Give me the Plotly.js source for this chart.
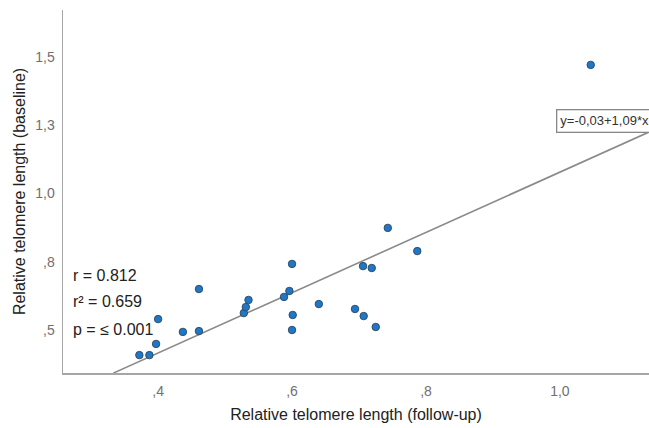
<!DOCTYPE html>
<html>
<head>
<meta charset="utf-8">
<script src="https://cdn.plot.ly/plotly-3.0.1.min.js"></script>
<style>html,body{margin:0;padding:0;background:#fff;}#chart{width:649px;height:428px;}</style>
</head>
<body>
<div id="chart"></div>
<script>
// Data
const followUp = [0.372, 0.387, 0.397, 0.400, 0.437, 0.461, 0.461, 0.528, 0.531, 0.535, 0.588, 0.596, 0.600, 0.601, 0.600, 0.640, 0.694, 0.707, 0.725, 0.706, 0.719, 0.743, 0.787, 1.046];
const baseline = [0.408, 0.408, 0.449, 0.540, 0.493, 0.496, 0.650, 0.562, 0.584, 0.610, 0.621, 0.643, 0.742, 0.555, 0.500, 0.595, 0.577, 0.551, 0.511, 0.734, 0.727, 0.874, 0.789, 1.471];
// Fit line end points
const fitX = [0.333, 1.133];
const fitY = [0.342, 1.225];
const xTickVals = [0.4, 0.6, 0.8, 1.0];
const xTickText = [",4", ",6", ",8", "1,0"];
const yTickVals = [0.5, 0.75, 1.0, 1.25, 1.5];
const yTickText = [",5", ",8", "1,0", "1,3", "1,5"];
const statsLines = ["r = 0.812", "r\u00b2 = 0.659", "p = \u2264 0.001"];
const statsY = [0.698, 0.603, 0.502];
const equationText = "y=-0,03+1,09*x";

const font = "Arial, 'Liberation Sans', sans-serif";

const traces = [
  {
    x: fitX, y: fitY, type: 'scatter', mode: 'lines',
    line: {color: '#8a8a8a', width: 1.6}, hoverinfo: 'skip', showlegend: false
  },
  {
    x: followUp, y: baseline, type: 'scatter', mode: 'markers',
    marker: {size: 7.5, color: '#1f77c6', line: {color: '#2e4760', width: 0.9}},
    showlegend: false
  }
];

const annotations = statsLines.map((t, i) => ({
  xref: 'x', yref: 'y', x: 0.270, y: statsY[i], xanchor: 'left', yanchor: 'middle',
  text: t, showarrow: false, font: {family: font, size: 16, color: '#222'}
}));
annotations.push({
  xref: 'x', yref: 'y', x: 0.994, y: 1.266, xanchor: 'left', yanchor: 'middle',
  text: equationText, showarrow: false, font: {family: font, size: 13, color: '#333'},
  bgcolor: '#fff', bordercolor: '#888', borderwidth: 1.3, borderpad: 3
});

const layout = {
  width: 649, height: 428,
  margin: {l: 63, r: 0, t: 10, b: 55},
  paper_bgcolor: '#fff', plot_bgcolor: '#fff',
  font: {family: font},
  xaxis: {
    range: [0.258, 1.133], showgrid: false, zeroline: false,
    showline: true, linecolor: '#a6a6a6', linewidth: 1.5,
    tickvals: xTickVals, ticktext: xTickText, ticks: '',
    tickfont: {family: font, size: 14, color: '#707070'}, ticklabelstandoff: 5,
    title: {text: 'Relative telomere length (follow-up)', font: {family: font, size: 16, color: '#222'}, standoff: 10}
  },
  yaxis: {
    range: [0.3425, 1.672], showgrid: false, zeroline: false,
    showline: true, linecolor: '#a6a6a6', linewidth: 1.5,
    tickvals: yTickVals, ticktext: yTickText, ticks: '',
    tickfont: {family: font, size: 14, color: '#707070'}, ticklabelstandoff: 4,
    title: {text: 'Relative telomere length (baseline)', font: {family: font, size: 16, color: '#222'}, standoff: 5}
  },
  annotations: annotations,
  showlegend: false
};

Plotly.newPlot('chart', traces, layout, {displayModeBar: false, staticPlot: true});
</script>
</body>
</html>
